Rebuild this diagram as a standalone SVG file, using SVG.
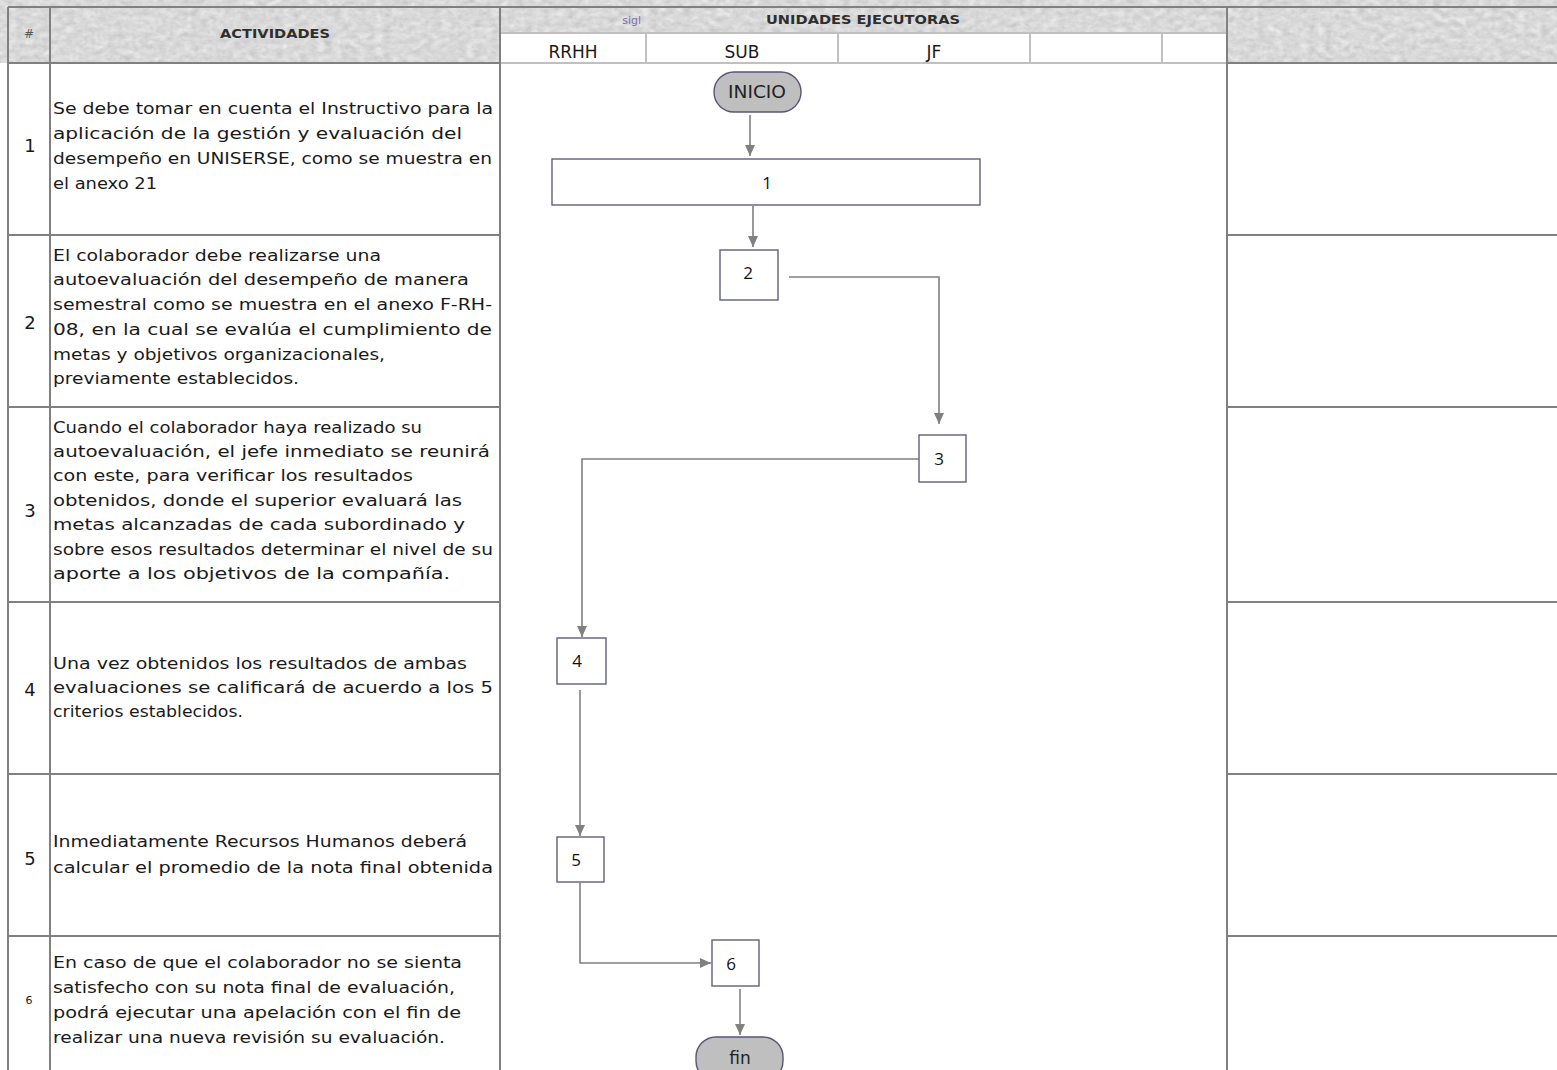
<svg xmlns="http://www.w3.org/2000/svg" width="1557" height="1070" viewBox="0 0 1557 1070">
  <style>
    .grid { stroke: #808080; stroke-width: 2; fill: none; }
    .thin { stroke: #c0c0c0; stroke-width: 2; fill: none; }
    .txt { font-family: "DejaVu Sans", "Liberation Sans", sans-serif; font-size: 16px; fill: #1a1a1a; }
    .num { font-family: "DejaVu Sans", "Liberation Sans", sans-serif; font-size: 18px; fill: #1a1a1a; text-anchor: middle; }
    .hdr { font-family: "DejaVu Sans", "Liberation Sans", sans-serif; font-weight: bold; font-size: 12.5px; fill: #2e2e2e; text-anchor: middle; }
    .lane { font-family: "DejaVu Sans", "Liberation Sans", sans-serif; font-size: 17px; fill: #1a1a1a; text-anchor: middle; }
    .box { fill: #ffffff; stroke: #5e5e7e; stroke-width: 1.4; }
    .term { fill: #bfbfbf; stroke: #55557a; stroke-width: 1.4; }
    .lbl { font-family: "Open Sans", "Noto Sans", "Liberation Sans", sans-serif; font-size: 17px; fill: #111; text-anchor: middle; }
    .tlbl { font-family: "DejaVu Sans", "Liberation Sans", sans-serif; font-size: 17px; fill: #222; text-anchor: middle; }
    .conn { stroke: #808080; stroke-width: 1.6; fill: none; marker-end: url(#arrow); }
  </style>
  <defs>
    <marker id="arrow" markerUnits="userSpaceOnUse" markerWidth="12" markerHeight="12" viewBox="0 0 12 12" refX="11" refY="6" orient="auto">
      <path d="M0,1 L11,6 L0,11 Z" fill="#808080"/>
    </marker>
    <filter id="paper" x="0" y="0" width="100%" height="100%" color-interpolation-filters="sRGB">
      <feTurbulence type="fractalNoise" baseFrequency="0.12 0.18" numOctaves="4" seed="11" result="noise"/>
      <feColorMatrix in="noise" type="matrix" values="0.1 0.1 0.1 0 0.7  0.1 0.1 0.1 0 0.7  0.1 0.1 0.1 0 0.7  0 0 0 0 1" result="tone"/>
      <feComposite in="tone" in2="SourceGraphic" operator="in"/>
    </filter>
  </defs>

  <!-- page -->
  <rect x="0" y="0" width="1557" height="1070" fill="#ffffff"/>

  <!-- textured header areas -->
  <g id="header-bg" filter="url(#paper)">
    <rect x="0" y="0" width="1557" height="7" fill="#d4d4d4"/>
    <rect x="0" y="7" width="500" height="56" fill="#d4d4d4"/>
    <rect x="500" y="7" width="727" height="26" fill="#d4d4d4"/>
    <rect x="1227" y="7" width="330" height="56" fill="#d4d4d4"/>
  </g>

  <!-- table grid -->
  <g id="grid">
    <path class="thin" d="M500,33 H1227 M646,33 V63 M838,33 V63 M1030,33 V63 M1162,33 V63 M500,63 H1227"/>
    <path class="grid" d="M8,7 H1557"/>
    <path class="grid" d="M8,7 V1070 M50,7 V1070 M500,7 V1070 M1227,7 V1070"/>
    <path class="grid" d="M8,63 H500 M1227,63 H1557"/>
    <path class="grid" d="M8,235 H500 M8,407 H500 M8,602 H500 M8,774 H500 M8,936 H500"/>
    <path class="grid" d="M1227,235 H1557 M1227,407 H1557 M1227,602 H1557 M1227,774 H1557 M1227,936 H1557"/>
  </g>

  <!-- header labels -->
  <g id="header-text">
    <text x="29" y="38" font-family="DejaVu Sans, sans-serif" font-size="12" fill="#555" text-anchor="middle">#</text>
    <text class="hdr" x="275" y="38" textLength="110" lengthAdjust="spacingAndGlyphs">ACTIVIDADES</text>
    <text x="641" y="24" font-family="DejaVu Sans, sans-serif" font-size="11" fill="#7a6fa8" text-anchor="end">sigl</text>
    <text class="hdr" x="863" y="24" textLength="194" lengthAdjust="spacingAndGlyphs">UNIDADES EJECUTORAS</text>
    <text class="lane" x="573" y="58">RRHH</text>
    <text class="lane" x="742" y="58">SUB</text>
    <text class="lane" x="934" y="58">JF</text>
  </g>

  <!-- activity rows -->
  <g id="row-1">
    <text class="num" x="30" y="152">1</text>
    <text class="txt" x="53" y="114" textLength="440" lengthAdjust="spacingAndGlyphs">Se debe tomar en cuenta el Instructivo para la</text>
    <text class="txt" x="53" y="139" textLength="409" lengthAdjust="spacingAndGlyphs">aplicación de la gestión y evaluación del</text>
    <text class="txt" x="53" y="164" textLength="439" lengthAdjust="spacingAndGlyphs">desempeño en UNISERSE, como se muestra en</text>
    <text class="txt" x="53" y="189" textLength="104" lengthAdjust="spacingAndGlyphs">el anexo 21</text>
  </g>
  <g id="row-2">
    <text class="num" x="30" y="329">2</text>
    <text class="txt" x="53" y="261" textLength="328" lengthAdjust="spacingAndGlyphs">El colaborador debe realizarse una</text>
    <text class="txt" x="53" y="285" textLength="416" lengthAdjust="spacingAndGlyphs">autoevaluación del desempeño de manera</text>
    <text class="txt" x="53" y="310" textLength="439" lengthAdjust="spacingAndGlyphs">semestral como se muestra en el anexo F-RH-</text>
    <text class="txt" x="53" y="335" textLength="439" lengthAdjust="spacingAndGlyphs">08, en la cual se evalúa el cumplimiento de</text>
    <text class="txt" x="53" y="360" textLength="332" lengthAdjust="spacingAndGlyphs">metas y objetivos organizacionales,</text>
    <text class="txt" x="53" y="384" textLength="246" lengthAdjust="spacingAndGlyphs">previamente establecidos.</text>
  </g>
  <g id="row-3">
    <text class="num" x="30" y="517">3</text>
    <text class="txt" x="53" y="433" textLength="369" lengthAdjust="spacingAndGlyphs">Cuando el colaborador haya realizado su</text>
    <text class="txt" x="53" y="457" textLength="437" lengthAdjust="spacingAndGlyphs">autoevaluación, el jefe inmediato se reunirá</text>
    <text class="txt" x="53" y="481" textLength="360" lengthAdjust="spacingAndGlyphs">con este, para verificar los resultados</text>
    <text class="txt" x="53" y="506" textLength="409" lengthAdjust="spacingAndGlyphs">obtenidos, donde el superior evaluará las</text>
    <text class="txt" x="53" y="530" textLength="412" lengthAdjust="spacingAndGlyphs">metas alcanzadas de cada subordinado y</text>
    <text class="txt" x="53" y="555" textLength="440" lengthAdjust="spacingAndGlyphs">sobre esos resultados determinar el nivel de su</text>
    <text class="txt" x="53" y="579" textLength="397" lengthAdjust="spacingAndGlyphs">aporte a los objetivos de la compañía.</text>
  </g>
  <g id="row-4">
    <text class="num" x="30" y="696">4</text>
    <text class="txt" x="53" y="669" textLength="414" lengthAdjust="spacingAndGlyphs">Una vez obtenidos los resultados de ambas</text>
    <text class="txt" x="53" y="693" textLength="440" lengthAdjust="spacingAndGlyphs">evaluaciones se calificará de acuerdo a los 5</text>
    <text class="txt" x="53" y="717" textLength="190" lengthAdjust="spacingAndGlyphs">criterios establecidos.</text>
  </g>
  <g id="row-5">
    <text class="num" x="30" y="865" font-size="20">5</text>
    <text class="txt" x="53" y="847" textLength="414" lengthAdjust="spacingAndGlyphs">Inmediatamente Recursos Humanos deberá</text>
    <text class="txt" x="53" y="873" textLength="440" lengthAdjust="spacingAndGlyphs">calcular el promedio de la nota final obtenida</text>
  </g>
  <g id="row-6">
    <text x="29" y="1004" font-family="DejaVu Sans, sans-serif" font-size="11" fill="#1a1a1a" text-anchor="middle">6</text>
    <text class="txt" x="53" y="968" textLength="409" lengthAdjust="spacingAndGlyphs">En caso de que el colaborador no se sienta</text>
    <text class="txt" x="53" y="993" textLength="402" lengthAdjust="spacingAndGlyphs">satisfecho con su nota final de evaluación,</text>
    <text class="txt" x="53" y="1018" textLength="408" lengthAdjust="spacingAndGlyphs">podrá ejecutar una apelación con el fin de</text>
    <text class="txt" x="53" y="1043" textLength="392" lengthAdjust="spacingAndGlyphs">realizar una nueva revisión su evaluación.</text>
  </g>

  <!-- connectors -->
  <g id="connectors">
    <path class="conn" d="M750,115 V156"/>
    <path class="conn" d="M753,206 V247"/>
    <path class="conn" d="M789,277 H939 V424"/>
    <path class="conn" d="M919,459 H582 V637"/>
    <path class="conn" d="M580,690 V836"/>
    <path class="conn" d="M580,883 V963 H711"/>
    <path class="conn" d="M740,989 V1035"/>
  </g>

  <!-- flow nodes -->
  <g id="node-inicio">
    <rect class="term" x="714" y="72" width="87" height="40" rx="20" ry="20"/>
    <text class="tlbl" x="757" y="98" textLength="58" lengthAdjust="spacingAndGlyphs">INICIO</text>
  </g>
  <g id="node-1">
    <rect class="box" x="552" y="159" width="428" height="46"/>
    <text class="lbl" x="767" y="189">1</text>
  </g>
  <g id="node-2">
    <rect class="box" x="720" y="250" width="58" height="50"/>
    <text class="lbl" x="748" y="279">2</text>
  </g>
  <g id="node-3">
    <rect class="box" x="919" y="435" width="47" height="47"/>
    <text class="lbl" x="939" y="465">3</text>
  </g>
  <g id="node-4">
    <rect class="box" x="557" y="638" width="49" height="46"/>
    <text class="lbl" x="577" y="667">4</text>
  </g>
  <g id="node-5">
    <rect class="box" x="557" y="837" width="47" height="45"/>
    <text class="lbl" x="576" y="866">5</text>
  </g>
  <g id="node-6">
    <rect class="box" x="712" y="940" width="47" height="46"/>
    <text class="lbl" x="731" y="970">6</text>
  </g>
  <g id="node-fin">
    <rect class="term" x="696" y="1037" width="87" height="44" rx="20" ry="20"/>
    <text class="tlbl" x="740" y="1064">fin</text>
  </g>
</svg>
